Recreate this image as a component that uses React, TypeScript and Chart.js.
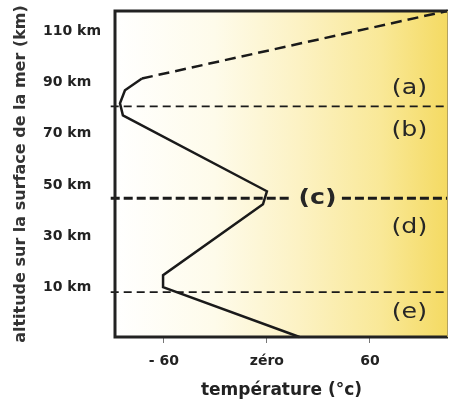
import React, { useEffect, useRef } from 'react';
import { Chart, registerables } from 'chart.js';

Chart.register(...registerables);

// Temperature profile (°C) vs altitude (km)
const profileTemp = [19, -60.5, -60.5, -2.3, 0, -83.9, -85.6, -82.7, -72.8];
const profileAlt = [-9.5, 10, 14.7, 42.4, 47.5, 77.2, 81.9, 87, 91.6];
// Upper (uncertain) part, dashed
const upperTemp = [-72.8, 105];
const upperAlt = [91.6, 118];

// Layer boundaries (km)
const thinBoundaryAlt = [8.05, 80.7];
const thickBoundaryAlt = 44.8;
const boundaryFromTemp = -91;
const boundaryToTemp = 105.5;
const thickGapFromTemp = 14.6;
const thickGapToTemp = 43.7;

// Axis ticks
const xTickValues = [-60, 0, 60];
const xTickLabels = ['- 60', 'zéro', '60'];
const yTickValues = [10, 30, 50, 70, 90, 110];

// Layer labels
const regionLabels = ['(a)', '(b)', '(c)', '(d)', '(e)'];
const regionTemp = [83, 83, 29.5, 83, 83];
const regionAlt = [87.7, 71.3, 44.8, 33.4, 0.2];

const LINE = '#1a1a1a';

const pts = (xs: number[], ys: number[]) => xs.map((x, i) => ({ x, y: ys[i] }));

const bgPlugin = {
  id: 'bg',
  beforeDraw(chart: any) {
    const { ctx, chartArea: a, width, height } = chart;
    ctx.save();
    ctx.fillStyle = '#ffffff';
    ctx.fillRect(0, 0, width, height);
    const g = ctx.createLinearGradient(a.left, 0, a.right, 0);
    g.addColorStop(0, '#ffffff');
    g.addColorStop(0.3, '#fefbea');
    g.addColorStop(0.55, '#fcf2c4');
    g.addColorStop(0.8, '#f9e897');
    g.addColorStop(1, '#f4da62');
    ctx.fillStyle = g;
    ctx.fillRect(a.left, a.top, a.right - a.left, a.bottom - a.top);
    ctx.restore();
  },
  afterDatasetsDraw(chart: any) {
    const { ctx, chartArea: a, scales } = chart;
    ctx.save();
    // frame
    ctx.strokeStyle = '#222';
    ctx.lineWidth = 3;
    ctx.beginPath();
    ctx.moveTo(a.right, a.top);
    ctx.lineTo(a.left, a.top);
    ctx.lineTo(a.left, a.bottom);
    ctx.lineTo(a.right, a.bottom);
    ctx.stroke();
    ctx.strokeStyle = '#b3a260';
    ctx.lineWidth = 1;
    ctx.beginPath();
    ctx.moveTo(a.right - 0.5, a.top);
    ctx.lineTo(a.right - 0.5, a.bottom);
    ctx.stroke();
    // layer labels
    ctx.fillStyle = '#262626';
    ctx.textAlign = 'center';
    ctx.textBaseline = 'middle';
    regionLabels.forEach((t, i) => {
      const x = scales.x.getPixelForValue(regionTemp[i]);
      const y = scales.y.getPixelForValue(regionAlt[i]);
      ctx.save();
      ctx.translate(x, y);
      ctx.scale(1.15, 1);
      ctx.font = (t === '(c)' ? 'bold ' : '') + '22px "DejaVu Sans"';
      ctx.fillText(t, 0, 0);
      ctx.restore();
    });
    ctx.restore();
  },
};

export default function App() {
  const ref = useRef<HTMLCanvasElement>(null);
  useEffect(() => {
    const canvas = ref.current!;
    const chart = new Chart(canvas, {
      type: 'line',
      data: {
        datasets: [
          {
            data: pts(profileTemp, profileAlt),
            borderColor: LINE,
            borderWidth: 2.5,
            pointRadius: 0,
            tension: 0,
            clip: 4,
          },
          {
            data: pts(upperTemp, upperAlt),
            borderColor: LINE,
            borderWidth: 2.5,
            borderDash: [11, 6],
            pointRadius: 0,
            clip: 4,
          },
          ...thinBoundaryAlt.map((h) => ({
            data: pts([boundaryFromTemp, boundaryToTemp], [h, h]),
            borderColor: LINE,
            borderWidth: 1.6,
            borderDash: [8, 5],
            pointRadius: 0,
            clip: false as any,
          })),
          {
            data: pts([boundaryFromTemp, thickGapFromTemp], [thickBoundaryAlt, thickBoundaryAlt]),
            borderColor: LINE,
            borderWidth: 3,
            borderDash: [9, 4],
            pointRadius: 0,
            clip: false as any,
          },
          {
            data: pts([thickGapToTemp, boundaryToTemp], [thickBoundaryAlt, thickBoundaryAlt]),
            borderColor: LINE,
            borderWidth: 3,
            borderDash: [9, 4],
            pointRadius: 0,
            clip: false as any,
          },
        ],
      },
      options: {
        responsive: false,
        devicePixelRatio: 1,
        animation: false,
        events: [],
        layout: { padding: { top: 11, right: 4, left: 43, bottom: 0 } },
        plugins: { legend: { display: false }, tooltip: { enabled: false } },
        scales: {
          x: {
            type: 'linear',
            min: -88.5,
            max: 105.5,
            afterBuildTicks: (s: any) => {
              s.ticks = xTickValues.map((v) => ({ value: v }));
            },
            afterFit: (s: any) => {
              s.height = 76;
            },
            grid: { drawOnChartArea: false, drawTicks: true, tickLength: 6, color: '#777', lineWidth: 1 },
            border: { display: false },
            ticks: {
              autoSkip: false,
              maxRotation: 0,
              padding: 10,
              color: '#222',
              font: { family: '"DejaVu Sans"', size: 14, weight: 'bold' },
              callback: (_v: any, i: number) => xTickLabels[i],
            },
            title: {
              display: true,
              text: 'température (°c)',
              color: '#222',
              font: { family: '"DejaVu Sans"', size: 17, weight: 'bold' },
              padding: { top: 0, bottom: 12 },
            },
          },
          y: {
            type: 'linear',
            min: -9.5,
            max: 118,
            afterBuildTicks: (s: any) => {
              s.ticks = yTickValues.map((v) => ({ value: v }));
            },
            afterFit: (s: any) => {
              s.width = 72;
            },
            grid: { display: false, drawTicks: false },
            border: { display: false },
            ticks: {
              crossAlign: 'far',
              padding: 0,
              color: '#222',
              font: { family: '"DejaVu Sans"', size: 14, weight: 'bold' },
              callback: (v: any) => v + ' km',
            },
            title: {
              display: true,
              text: 'altitude sur la surface de la mer (km)',
              color: '#333',
              font: { family: '"DejaVu Sans"', size: 16, weight: 'bold' },
              padding: { top: -32, bottom: 0 },
            },
          },
        },
      } as any,
      plugins: [bgPlugin],
    });
    return () => chart.destroy();
  }, []);
  return (
    <div style={{ position: 'fixed', left: 0, top: 0, width: 452, height: 413, background: '#fff' }}>
      <canvas ref={ref} width={452} height={413} style={{ display: 'block' }} />
    </div>
  );
}
